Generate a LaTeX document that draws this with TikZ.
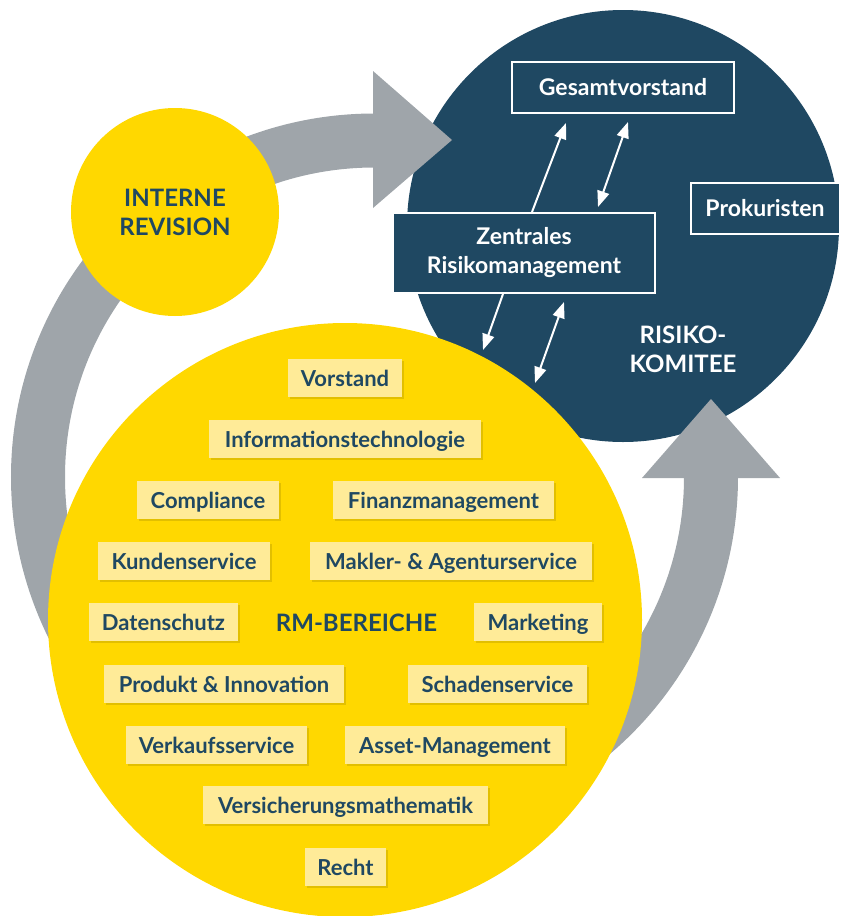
\documentclass[tikz,border=0pt]{standalone}
\usepackage{fontspec}
\setmainfont{Lato}
\usetikzlibrary{arrows.meta,shadows}

\definecolor{rmdark}{HTML}{1F4862}
\definecolor{rmyellow}{HTML}{FFD800}
\definecolor{rmlight}{HTML}{FFEB98}
\definecolor{rmgray}{HTML}{9FA5AA}
\definecolor{rmshadow}{HTML}{A08800}

\tikzset{
  area/.style={fill=rmlight,text=rmdark,font=\fontsize{22}{26}\selectfont\bfseries,
    minimum height=38pt,inner xsep=10pt,text height=17pt,text depth=0pt,
    drop shadow={shadow xshift=2pt,shadow yshift=-2pt,fill=rmshadow,opacity=0.3}},
  board/.style={draw=white,line width=2pt,fill=rmdark,text=white,align=center,
    font=\fontsize{23}{29}\selectfont\bfseries,inner xsep=17pt},
  title/.style={text=rmdark,align=center,font=\fontsize{24}{29}\selectfont\bfseries},
  link/.style={white,line width=2pt,-{Triangle[length=16pt,width=12pt]}},
  twoway/.style={white,line width=2pt,{Triangle[length=16pt,width=12pt]}-{Triangle[length=16pt,width=12pt]}}
}

\begin{document}
\begin{tikzpicture}[x=1pt,y=-1pt]
  \useasboundingbox (0,0) rectangle (843,916);
  % risk committee
  \fill[rmdark] (623,226) circle[radius=216];
  % gray cycle
  \draw[rmgray,line width=54pt] (374.5,140.5) arc[start angle=270,end angle=0,radius=336.5];
  \fill[rmgray] (373,71) -- (452,140) -- (373,208) -- cycle;
  \fill[rmgray] (642,478) -- (711,399) -- (780,478) -- cycle;
  % yellow areas
  \fill[rmyellow] (345,620) circle[radius=297];
  \node[circle,fill=rmyellow,minimum size=208pt,align=center,text=rmdark,
    font=\fontsize{24}{29}\selectfont\bfseries] (revision) at (175,212) {INTERNE\\REVISION};

  \node[board,minimum width=222pt,minimum height=51pt] (gesamt) at (623,87.5) {Gesamtvorstand};
  \node[board,minimum width=262pt,minimum height=80pt] (zrm) at (524,253) {Zentrales\\Risikomanagement};
  \node[board,minimum width=149pt,minimum height=51pt,inner xsep=10pt] (proku) at (765,208.5) {Prokuristen};
  \node[title,text=white] (komitee) at (683,349) {RISIKO-\\KOMITEE};

  \node[area,minimum width=114pt] (vorstand) at (345,378) {Vorstand};
  \node[area,minimum width=272pt] (itech) at (345,439) {Informationstechnologie};
  \node[area,minimum width=142pt] (compliance) at (208,500) {Compliance};
  \node[area,minimum width=221pt] (finanz) at (443.5,500) {Finanzmanagement};
  \node[area,minimum width=172pt] (kunden) at (184,561) {Kundenservice};
  \node[area,minimum width=282pt] (makler) at (451,561) {Makler- \& Agenturservice};
  \node[area,minimum width=149pt] (datenschutz) at (163.5,622) {Datenschutz};
  \node[title] (rmb) at (356.5,623) {RM-BEREICHE};
  \node[area,minimum width=128pt] (marketing) at (538,622) {Marketing};
  \node[area,minimum width=240pt] (produkt) at (224,683.5) {Produkt \& Innovation};
  \node[area,minimum width=179pt] (schaden) at (497.5,683.5) {Schadenservice};
  \node[area,minimum width=181pt] (verkauf) at (216.5,744.5) {Verkaufsservice};
  \node[area,minimum width=220pt] (asset) at (455,744.5) {Asset-Management};
  \node[area,minimum width=285pt] (vmath) at (345.5,805) {Versicherungsmathematik};
  \node[area,minimum width=81pt] (recht) at (345.5,866.5) {Recht};

  \coordinate (g1) at (566,123);
  \coordinate (g2) at (628,122);
  \coordinate (z2) at (598,207);
  \coordinate (b1) at (483,350);
  \coordinate (z4) at (564,302);
  \coordinate (b2) at (535,383);
  \draw[link] ([xshift=140pt]zrm.north west) -- (g1);
  \draw[twoway] (g2) -- (z2);
  \draw[link] ([xshift=111pt]zrm.south west) -- (b1);
  \draw[twoway] (z4) -- (b2);
\end{tikzpicture}
\end{document}
